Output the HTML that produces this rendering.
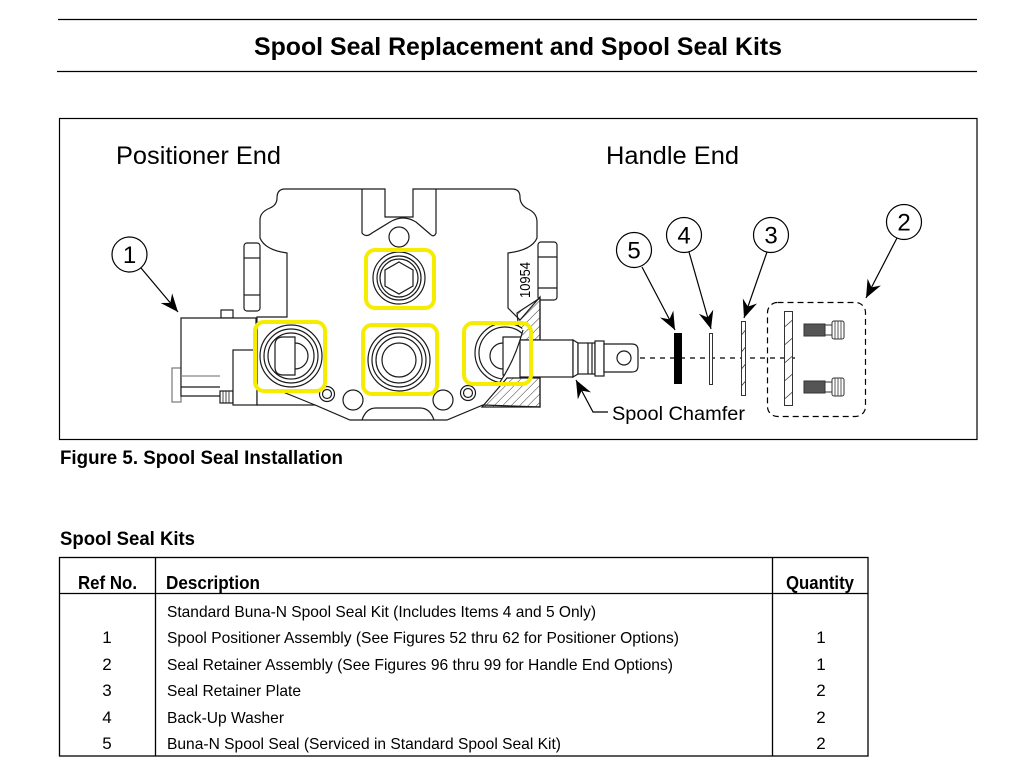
<!DOCTYPE html>
<html><head><meta charset="utf-8"><style>
html,body{margin:0;padding:0;background:#fff;}
svg{display:block;}
text{font-family:"Liberation Sans",Arial,sans-serif;fill:#000;}
</style></head><body>
<svg width="1030" height="773" viewBox="0 0 1030 773" xmlns="http://www.w3.org/2000/svg">
<defs>
<pattern id="h" width="6" height="6" patternUnits="userSpaceOnUse" patternTransform="rotate(45)">
<line x1="0" y1="0" x2="0" y2="6" stroke="#333" stroke-width="1"/>
</pattern>
<marker id="a" markerUnits="userSpaceOnUse" markerWidth="20" markerHeight="18" refX="18" refY="9" orient="auto">
<path d="M18,9 L0,1.5 L6,9 L0,16.5 Z" fill="#000"/>
</marker>
<clipPath id="rc"><path d="M450,310 L524,310 L522,332 Q515,360 500,382 L450,395 Z"/></clipPath>
</defs>

<!-- header rules and title -->
<line x1="58" y1="19.5" x2="977" y2="19.5" stroke="#000" stroke-width="1.2"/>
<line x1="57" y1="71.5" x2="977" y2="71.5" stroke="#000" stroke-width="1.2"/>
<text x="254" y="55" font-size="25" font-weight="bold" textLength="528" lengthAdjust="spacingAndGlyphs">Spool Seal Replacement and Spool Seal Kits</text>

<!-- diagram frame -->
<rect x="59.5" y="118.5" width="917.5" height="321" fill="none" stroke="#000" stroke-width="1.2"/>
<text x="116" y="164" font-size="25" textLength="165" lengthAdjust="spacingAndGlyphs">Positioner End</text>
<text x="606" y="164" font-size="25" textLength="133" lengthAdjust="spacingAndGlyphs">Handle End</text>

<g stroke="#1a1a1a" stroke-width="1.2" fill="#fff">
<!-- positioner block -->
<rect x="221" y="310" width="12" height="8"/>
<rect x="172" y="368" width="9" height="34" stroke="#777"/>
<path d="M181,318 L256,318 L256,396 L181,396 Z"/>
<line x1="181" y1="376" x2="220" y2="376" stroke="#888"/>
<line x1="181" y1="387" x2="220" y2="387"/>
<rect x="220" y="391" width="13" height="12"/>
<path d="M223,391 V403 M226,391 V403 M229,391 V403" fill="none" stroke-width="0.8"/>
<rect x="233" y="350" width="24" height="55"/>
<!-- left hex nut -->
<rect x="244" y="243" width="16" height="68" rx="3"/>
<line x1="244" y1="258" x2="260" y2="258"/>
<line x1="244" y1="295" x2="260" y2="295"/>
<!-- right hex nut -->
<rect x="538" y="242" width="19" height="58" rx="3"/>
<line x1="538" y1="257" x2="557" y2="257"/>
<line x1="538" y1="288" x2="557" y2="288"/>

<!-- body outline -->
<path d="M257,317 L287,317 L287,253 Q265,250 260,238 L260,220 Q260,212 270,208 Q277,205 277,198 Q277,189 285,189 L385,189 L385,217 L413,217 L413,189 L512,189 Q520,189 520,197 Q520,205 528,209 Q537,213 537,222 L537,238 Q532,250 508,253 L508,308 L520,320 L540,297 L540,407 L483,405 L447,420 L350,420 L315,405 L257,405 Z"/>
<path d="M362,189 L362,233 Q366,238 372,233 L390,222 Q403,214 416,222 L430,234 Q434,238 436,233 L436,189" fill="none"/>
<line x1="283" y1="392" x2="315" y2="405"/>
<path d="M362,420 Q366,408 376,408 L420,408 Q430,408 434,420" fill="none"/>
<circle cx="399" cy="237" r="10"/>
<circle cx="327" cy="394" r="7.5"/><circle cx="327" cy="394" r="4.5"/>
<circle cx="353" cy="400" r="10"/>
<circle cx="443" cy="400" r="10"/>
<circle cx="468" cy="393" r="7.5"/><circle cx="468" cy="393" r="4.5"/>

<!-- hatched sections -->
<path d="M517,313 L540,298 L540,340 L520,340 Z" fill="url(#h)"/>
<path d="M482,407 L507,378 L540,378 L540,407 Z" fill="url(#h)"/>

<!-- top port -->
<circle cx="399" cy="278" r="26"/>
<circle cx="399" cy="278" r="22"/>
<circle cx="399" cy="278" r="19"/>
<path d="M399,262 L413,270 L413,286 L399,294 L385,286 L385,270 Z"/>
<!-- center port -->
<circle cx="399" cy="360" r="31"/>
<circle cx="399" cy="360" r="27"/>
<circle cx="399" cy="360" r="23"/>
<circle cx="399" cy="360" r="17"/>
<!-- left port -->
<circle cx="291" cy="356" r="31"/>
<circle cx="291" cy="356" r="27"/>
<circle cx="291" cy="356" r="23"/>
<path d="M295,343 A13,13 0 0 1 295,369"/>
<path d="M295,337 L283,337 Q275,337 275,345 L275,367 Q275,375 283,375 L295,375 Z"/>
<!-- right port (clipped by section) -->
<g clip-path="url(#rc)">
<circle cx="505" cy="353" r="30"/>
<circle cx="505" cy="353" r="26"/>
<path d="M503,343 A13,13 0 0 0 503,369"/>
<path d="M503,337 L530,337 L530,375 L503,375 Z"/>
</g>
<path d="M523,330 Q515,360 500,382" fill="none"/>

<!-- spool -->
<rect x="520" y="340" width="53" height="37"/>
<path d="M573,340 L578,343 L578,374 L573,377 Z"/>
<rect x="578" y="343" width="17" height="31"/>
<line x1="588" y1="343" x2="588" y2="374"/>
<line x1="592" y1="343" x2="592" y2="374"/>
<rect x="595" y="341" width="9" height="35"/>
<path d="M604,344 L632,344 Q638,344 638,350 L638,366 Q638,372 632,372 L604,372 Z"/>
<circle cx="624" cy="358" r="7"/>
</g>

<!-- yellow highlight boxes -->
<g fill="none" stroke="#f5ec00" stroke-width="4">
<rect x="366" y="250" width="68" height="58" rx="9"/>
<rect x="255" y="322" width="70" height="69" rx="9"/>
<rect x="363" y="325" width="74" height="69" rx="9"/>
<rect x="464" y="323" width="67" height="61" rx="9"/>
</g>

<!-- 10954 -->
<text transform="translate(530,298) rotate(-90)" font-size="15" textLength="36" lengthAdjust="spacingAndGlyphs">10954</text>

<!-- center line -->
<line x1="640" y1="358" x2="800" y2="358" stroke="#000" stroke-width="1.2" stroke-dasharray="5,5"/>

<!-- parts -->
<rect x="674" y="333" width="8" height="51" fill="#000"/>
<rect x="709.5" y="333.5" width="3" height="51" fill="#fff" stroke="#333" stroke-width="1"/>
<rect x="741.5" y="321.5" width="4" height="74" fill="#fff" stroke="#333" stroke-width="1"/>
<path d="M741.5,335 L745.5,330 M741.5,352 L745.5,347 M741.5,369 L745.5,364 M741.5,386 L745.5,381" stroke="#333" stroke-width="0.8"/>
<rect x="767.5" y="302.5" width="98" height="114" rx="10" fill="none" stroke="#000" stroke-width="1.2" stroke-dasharray="6,4"/>
<rect x="784.5" y="311.5" width="8" height="94" fill="#fff" stroke="#333" stroke-width="1"/>
<path d="M784.5,327 L792.5,320 M784.5,345 L792.5,338 M784.5,363 L792.5,356 M784.5,381 L792.5,374 M784.5,399 L792.5,392" stroke="#333" stroke-width="0.8"/>
<!-- screws -->
<g stroke="#333" stroke-width="1">
<rect x="804" y="324" width="21" height="12" fill="#555"/>
<rect x="825" y="325" width="7" height="10" fill="#fff"/>
<rect x="832" y="321" width="12" height="18" rx="2" fill="#fff"/>
<path d="M835,321 V339 M838,321 V339 M841,321 V339" stroke-width="0.8"/>
<rect x="804" y="381" width="21" height="12" fill="#555"/>
<rect x="825" y="382" width="7" height="10" fill="#fff"/>
<rect x="832" y="378" width="12" height="18" rx="2" fill="#fff"/>
<path d="M835,378 V396 M838,378 V396 M841,378 V396" stroke-width="0.8"/>
</g>

<!-- callout circles -->
<g fill="#fff" stroke="#000" stroke-width="1.2">
<circle cx="129.5" cy="254.5" r="17.5"/>
<circle cx="634" cy="250" r="17.5"/>
<circle cx="684" cy="235" r="17.5"/>
<circle cx="771" cy="235" r="17.5"/>
<circle cx="904" cy="222" r="17.5"/>
</g>
<g font-size="24" text-anchor="middle">
<text x="129.5" y="263">1</text>
<text x="634" y="258.5">5</text>
<text x="684" y="243.5">4</text>
<text x="771" y="243.5">3</text>
<text x="904" y="230.5">2</text>
</g>
<!-- leader arrows -->
<g stroke="#000" stroke-width="1.2" fill="none" marker-end="url(#a)">
<line x1="141" y1="268" x2="178" y2="312"/>
<line x1="642" y1="267" x2="675" y2="330"/>
<line x1="689" y1="252" x2="711" y2="329"/>
<line x1="767" y1="252" x2="744" y2="318"/>
<line x1="897" y1="238" x2="866" y2="298"/>
<polyline points="608,412 593,412 576,380"/>
</g>
<text x="612" y="420" font-size="19.5" textLength="133" lengthAdjust="spacingAndGlyphs">Spool Chamfer</text>

<!-- captions -->
<text x="60" y="464" font-size="19" font-weight="bold" textLength="283" lengthAdjust="spacingAndGlyphs">Figure 5. Spool Seal Installation</text>
<text x="60" y="545" font-size="19" font-weight="bold" textLength="135" lengthAdjust="spacingAndGlyphs">Spool Seal Kits</text>

<!-- table -->
<g stroke="#000" stroke-width="1.3" fill="none">
<rect x="59.5" y="557.5" width="808.5" height="198.5"/>
<line x1="59" y1="593.5" x2="868" y2="593.5"/>
<line x1="155.5" y1="557" x2="155.5" y2="756"/>
<line x1="772.5" y1="557" x2="772.5" y2="756"/>
</g>
<g font-size="18" font-weight="bold">
<text x="78" y="589" textLength="59" lengthAdjust="spacingAndGlyphs">Ref No.</text>
<text x="166" y="589" textLength="94" lengthAdjust="spacingAndGlyphs">Description</text>
<text x="786" y="589" textLength="68" lengthAdjust="spacingAndGlyphs">Quantity</text>
</g>
<g font-size="16" fill="#222">
<text x="167" y="617" textLength="429" lengthAdjust="spacingAndGlyphs">Standard Buna-N Spool Seal Kit (Includes Items 4 and 5 Only)</text>
<text x="167" y="643" textLength="512" lengthAdjust="spacingAndGlyphs">Spool Positioner Assembly (See Figures 52 thru 62 for Positioner Options)</text>
<text x="167" y="670" textLength="506" lengthAdjust="spacingAndGlyphs">Seal Retainer Assembly (See Figures 96 thru 99 for Handle End Options)</text>
<text x="167" y="696" textLength="134" lengthAdjust="spacingAndGlyphs">Seal Retainer Plate</text>
<text x="167" y="723" textLength="117" lengthAdjust="spacingAndGlyphs">Back-Up Washer</text>
<text x="167" y="749" textLength="394" lengthAdjust="spacingAndGlyphs">Buna-N Spool Seal (Serviced in Standard Spool Seal Kit)</text>
</g>
<g font-size="17" text-anchor="middle" fill="#222">
<text x="107" y="643">1</text>
<text x="107" y="670">2</text>
<text x="107" y="696">3</text>
<text x="107" y="723">4</text>
<text x="107" y="749">5</text>
<text x="821" y="643">1</text>
<text x="821" y="670">1</text>
<text x="821" y="696">2</text>
<text x="821" y="723">2</text>
<text x="821" y="749">2</text>
</g>
</svg>
</body></html>
